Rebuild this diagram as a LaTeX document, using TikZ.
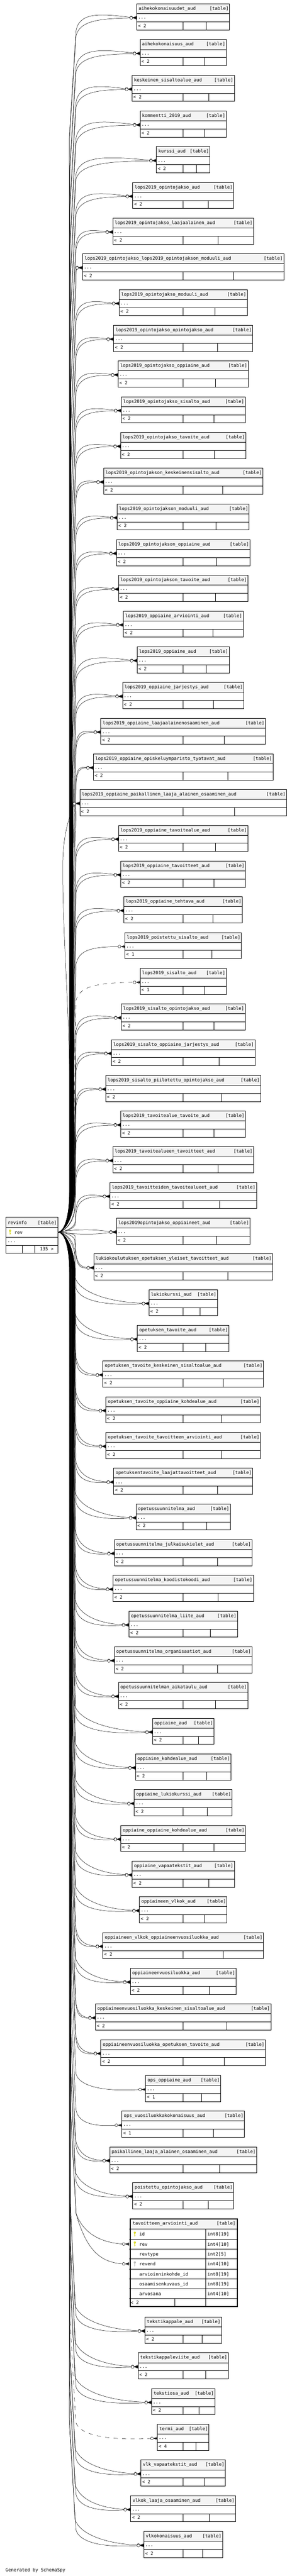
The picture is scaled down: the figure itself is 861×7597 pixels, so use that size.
\documentclass[tikz,border=0pt]{standalone}
\usepackage{fontspec}
\newfontfamily\dmono{DejaVu Sans Mono}
\definecolor{hdrgray}{HTML}{F4F4F4}
\definecolor{keyyellow}{HTML}{D4D400}
\definecolor{keygray}{HTML}{B4B4B4}
\tikzset{
  tbox/.style={draw=black, line width=1pt, inner sep=0pt, outer sep=0pt},
  tline/.style={draw=black, line width=1pt},
  txt/.style={font=\dmono\fontsize{13.3}{16}\selectfont, inner sep=0pt, outer sep=0pt},
  cnline/.style={draw=black, line width=0.75pt},
}
\newcommand\keyicon[3]{%
  \fill[#3] (#1,{#2-3.5}) circle (3.2);
  \fill[white] (#1,{#2-4.2}) circle (1);
  \fill[#3] ({#1-1},{#2-1}) rectangle ({#1+1},{#2+8});
  \fill[#3] ({#1+1},{#2+4}) rectangle ({#1+2.5},{#2+5.5});
}
\newcommand\crow[2]{%
  \fill[black] ({#1-10},#2) -- (#1,{#2-2.5}) -- (#1,{#2+2.5}) -- cycle;
  \draw[cnline] ({#1-10},#2) -- (#1,{#2-4.5}) ({#1-10},#2) -- (#1,{#2+4.5}) ({#1-20},#2) -- (#1,#2);
  \draw[cnline,fill=white] ({#1-16},#2) circle (4.2);
}
% connector from revinfo.rev to current table
\newcommand\cnx[2]{%
  \pgfmathsetmacro\cyp{\tT+41}%
  \pgfmathsetmacro\cEx{\tL-16}%
  \ifnum\tI<34
    \pgfmathsetmacro\cxb{205+17*\tI/33}%
    \ifnum#1=1
      \pgfmathsetmacro\cyd{\cyp+41}\def\cca{-15}\def\ccb{-14}\pgfmathsetmacro\cye{\cyp-0.7}\def\cxd{224}%
    \else
      \pgfmathsetmacro\cyd{\cyp+56}\def\cca{10}\def\ccb{2}\pgfmathsetmacro\cye{\cyp+0.7}\def\cxd{224}%
    \fi
    \pgfmathsetmacro\cD{min(120,(3633-\cyd)*0.5)}%
    \pgfmathsetmacro\cyq{3633-\cD}%
    \pgfmathsetmacro\cyr{min(\cyd+300,\cyq)}%
    \pgfmathsetmacro\cys{3633-0.4*\cD}%
  \else
    \pgfmathsetmacro\cxb{205+17*(69-\tI)/34}%
    \ifnum#1=1
      \pgfmathsetmacro\cyd{\cyp-78}\def\cca{-40}\def\ccb{-5}\pgfmathsetmacro\cye{\cyp-0.7}\def\cxd{221}%
    \else
      \pgfmathsetmacro\cyd{\cyp-46}\def\cca{-10}\def\ccb{8}\pgfmathsetmacro\cye{\cyp+0.7}\def\cxd{224}%
    \fi
    \pgfmathsetmacro\cD{min(120,(\cyd-3633)*0.5)}%
    \pgfmathsetmacro\cyq{3633+\cD}%
    \pgfmathsetmacro\cyr{max(\cyd-300,\cyq)}%
    \pgfmathsetmacro\cys{3633+0.4*\cD}%
  \fi
  \pgfmathsetmacro\cs{max(0,min(1,(\cEx-\cxd)/160))}%
  \pgfmathsetmacro\cax{\cxd+0.05*(\cEx-\cxd)}%
  \pgfmathsetmacro\cbx{\cxd+0.4*(\cEx-\cxd)}%
  \pgfmathsetmacro\cay{\cyp+\cca*\cs}%
  \pgfmathsetmacro\cby{\cyp+\ccb*\cs}%
  \coordinate (t\tI-p#1) at (\tL,\cye);
  \draw[cnline,#2] (ri-rev.east) .. controls (192,3633) and (\cxb,\cys) .. (\cxb,\cyq) -- (\cxb,\cyr) -- (\cxd,\cyd) .. controls (\cax,\cay) and (\cbx,\cby) .. (\cEx,\cye) -- (t\tI-p#1);
  \crow{\tL}{\cye}%
}
\newcommand\cTwo{\cnx{1}{}\cnx{2}{}}
\newcommand\cOne{\cnx{2}{}}
\newcommand\cDsh{\cnx{2}{dash pattern=on 12pt off 13pt}}
\newcommand\cStraight{%
  \coordinate (t34-p1) at (\tL,{\tT+40.3});
  \coordinate (t34-p2) at (\tL,{\tT+41.7});
  \draw[cnline] (ri-rev.east) .. controls (230,3624) and (280,3625) .. ({\tL-16},{\tT+40.3}) -- (t34-p1);
  \draw[cnline] (ri-rev.east) .. controls (230,3642) and (290,3641) .. ({\tL-16},{\tT+41.7}) -- (t34-p2);
  \crow{\tL}{\tT+40.3}\crow{\tL}{\tT+41.7}%
}
\newcommand\cFar{%
  \cnx{1}{}%
  \pgfmathsetmacro\cyp{\tT+41}%
  \coordinate (t22-p2) at (\tL,{\cyp+0.7});
  \draw[cnline] (ri-rev.east) .. controls (192,3633) and (206,3580) .. (206,3500) -- (205.6,3163) .. controls (202,2950) and (185,2750) .. (185,2560) .. controls (185,2470) and (200,2420) .. ({\tL-16},{\cyp+0.7}) -- (t22-p2);
  \crow{\tL}{\cyp+0.7}%
}
\newcommand\mytbl[5]{%
  \def\tI{#1}%
  \pgfmathsetmacro\tT{(#1<63) ? (11.3+#1*105.33) : (6833.4+(#1-63)*105.33)}%
  \pgfmathsetmacro\tL{#2}%
  \pgfmathsetmacro\tR{1080.6-#2}%
  \pgfmathsetmacro\tW{\tR-\tL}%
  \pgfmathsetmacro\tDt{(539.3+\tR)/2}%
  #5%
  \fill[hdrgray] (\tL,\tT) rectangle (\tR,{\tT+29});
  \draw[tline] (\tL,{\tT+29}) -- (\tR,{\tT+29}) (\tL,{\tT+53}) -- (\tR,{\tT+53})
     (539.3,{\tT+53}) -- (539.3,{\tT+77}) (\tDt,{\tT+53}) -- (\tDt,{\tT+77});
  \node[tbox, minimum width=\tW pt, minimum height=77pt, anchor=north west] (t#1) at (\tL,\tT) {};
  \node[txt, anchor=base west] (t#1-name) at ({\tL+6},{\tT+18.5}) {\detokenize{#3}};
  \node[txt, anchor=base east] (t#1-kind) at ({\tR-3},{\tT+18.5}) {[table]};
  \node[txt, anchor=base west] (t#1-dots) at ({\tL+4},{\tT+44.5}) {...};
  \node[txt, anchor=base west] (t#1-par) at ({\tL+4},{\tT+69.5}) {<~#4};
}
\begin{document}
\begin{tikzpicture}[x=1pt,y=-1pt]
\useasboundingbox (0,0) rectangle (861,7597);
\fill[white] (0,0) rectangle (861,7597);
% revinfo table
\fill[hdrgray] (17.8,3589.6) rectangle (170.4,3619);
\node[tbox, minimum width=152.6pt, minimum height=106.4pt, anchor=north west] (ri) at (17.8,3589.6) {};
\node[inner sep=0pt, outer sep=0pt, minimum width=152.6pt, minimum height=29.5pt, anchor=north west] (ri-rev) at (17.8,3619) {};
\draw[tline] (17.8,3619) -- (170.4,3619) (17.8,3648.5) -- (170.4,3648.5) (17.8,3672.5) -- (170.4,3672.5)
  (66.4,3672.5) -- (66.4,3696) (101.6,3672.5) -- (101.6,3696);
\node[txt, anchor=base west] (ri-name) at (23,3611) {revinfo};
\node[txt, anchor=base east] (ri-kind) at (167.3,3611) {[table]};
\keyicon{29.7}{3633}{keyyellow}
\node[txt, anchor=base west] (ri-revt) at (42.7,3639.5) {rev};
\node[txt, anchor=base west] (ri-dots) at (22,3664) {...};
\node[txt, anchor=base east] (ri-ch) at (158,3688.5) {135~>};

\mytbl{0}{403.3}{aihekokonaisuudet_aud}{2}{\cTwo}
\mytbl{1}{413.2}{aihekokonaisuus_aud}{2}{\cTwo}
\mytbl{2}{389.5}{keskeinen_sisaltoalue_aud}{2}{\cTwo}
\mytbl{3}{413.2}{kommentti_2019_aud}{2}{\cTwo}
\mytbl{4}{461.4}{kurssi_aud}{2}{\cTwo}
\mytbl{5}{391.5}{lops2019_opintojakso_aud}{2}{\cTwo}
\mytbl{6}{332.5}{lops2019_opintojakso_laajaalainen_aud}{2}{\cTwo}
\mytbl{7}{243.6}{lops2019_opintojakso_lops2019_opintojakson_moduuli_aud}{2}{\cTwo}
\mytbl{8}{351.5}{lops2019_opintojakso_moduuli_aud}{2}{\cTwo}
\mytbl{9}{335.3}{lops2019_opintojakso_opintojakso_aud}{2}{\cTwo}
\mytbl{10}{348.4}{lops2019_opintojakso_oppiaine_aud}{2}{\cTwo}
\mytbl{11}{357.5}{lops2019_opintojakso_sisalto_aud}{2}{\cTwo}
\mytbl{12}{355.5}{lops2019_opintojakso_tavoite_aud}{2}{\cTwo}
\mytbl{13}{305.3}{lops2019_opintojakson_keskeinensisalto_aud}{2}{\cTwo}
\mytbl{14}{345.6}{lops2019_opintojakson_moduuli_aud}{2}{\cTwo}
\mytbl{15}{343.2}{lops2019_opintojakson_oppiaine_aud}{2}{\cTwo}
\mytbl{16}{349.5}{lops2019_opintojakson_tavoite_aud}{2}{\cTwo}
\mytbl{17}{363.4}{lops2019_oppiaine_arviointi_aud}{2}{\cTwo}
\mytbl{18}{404.5}{lops2019_oppiaine_aud}{2}{\cTwo}
\mytbl{19}{361.4}{lops2019_oppiaine_jarjestys_aud}{2}{\cTwo}
\mytbl{20}{297.4}{lops2019_oppiaine_laajaalainenosaaminen_aud}{2}{\cTwo}
\mytbl{21}{275.2}{lops2019_oppiaine_opiskeluymparisto_tyotavat_aud}{2}{\cTwo}
\mytbl{22}{235.3}{lops2019_oppiaine_paikallinen_laaja_alainen_osaaminen_aud}{2}{\cFar}
\mytbl{23}{349.5}{lops2019_oppiaine_tavoitealue_aud}{2}{\cTwo}
\mytbl{24}{356.3}{lops2019_oppiaine_tavoitteet_aud}{2}{\cTwo}
\mytbl{25}{365.4}{lops2019_oppiaine_tehtava_aud}{2}{\cTwo}
\mytbl{26}{368.5}{lops2019_poistettu_sisalto_aud}{1}{\cOne}
\mytbl{27}{413.2}{lops2019_sisalto_aud}{1}{\cDsh}
\mytbl{28}{357.5}{lops2019_sisalto_opintojakso_aud}{2}{\cTwo}
\mytbl{29}{328.6}{lops2019_sisalto_oppiaine_jarjestys_aud}{2}{\cTwo}
\mytbl{30}{311.6}{lops2019_sisalto_piilotettu_opintojakso_aud}{2}{\cTwo}
\mytbl{31}{356.3}{lops2019_tavoitealue_tavoite_aud}{2}{\cTwo}
\mytbl{32}{332.5}{lops2019_tavoitealueen_tavoitteet_aud}{2}{\cTwo}
\mytbl{33}{324.2}{lops2019_tavoitteiden_tavoitealueet_aud}{2}{\cTwo}
\mytbl{34}{343.2}{lops2019opintojakso_oppiaineet_aud}{2}{\cStraight}
\mytbl{35}{276.4}{lukiokoulutuksen_opetuksen_yleiset_tavoitteet_aud}{2}{\cTwo}
\mytbl{36}{439.3}{lukiokurssi_aud}{2}{\cTwo}
\mytbl{37}{405.3}{opetuksen_tavoite_aud}{2}{\cTwo}
\mytbl{38}{303.3}{opetuksen_tavoite_keskeinen_sisaltoalue_aud}{2}{\cTwo}
\mytbl{39}{312.4}{opetuksen_tavoite_oppiaine_kohdealue_aud}{2}{\cTwo}
\mytbl{40}{312.4}{opetuksen_tavoite_tavoitteen_arviointi_aud}{2}{\cTwo}
\mytbl{41}{335.3}{opetuksentavoite_laajattavoitteet_aud}{2}{\cTwo}
\mytbl{42}{401.3}{opetussuunnitelma_aud}{2}{\cTwo}
\mytbl{43}{337.3}{opetussuunnitelma_julkaisukielet_aud}{2}{\cTwo}
\mytbl{44}{333.3}{opetussuunnitelma_koodistokoodi_aud}{2}{\cTwo}
\mytbl{45}{380.4}{opetussuunnitelma_liite_aud}{2}{\cTwo}
\mytbl{46}{337.3}{opetussuunnitelma_organisaatiot_aud}{2}{\cTwo}
\mytbl{47}{349.5}{opetussuunnitelman_aikataulu_aud}{2}{\cTwo}
\mytbl{48}{449.6}{oppiaine_aud}{2}{\cTwo}
\mytbl{49}{399.4}{oppiaine_kohdealue_aud}{2}{\cTwo}
\mytbl{50}{396.2}{oppiaine_lukiokurssi_aud}{2}{\cTwo}
\mytbl{51}{356.3}{oppiaine_oppiaine_kohdealue_aud}{2}{\cTwo}
\mytbl{52}{389.5}{oppiaine_vapaatekstit_aud}{2}{\cTwo}
\mytbl{53}{411.2}{oppiaineen_vlkok_aud}{2}{\cTwo}
\mytbl{54}{303.3}{oppiaineen_vlkok_oppiaineenvuosiluokka_aud}{2}{\cTwo}
\mytbl{55}{384.3}{oppiaineenvuosiluokka_aud}{2}{\cTwo}
\mytbl{56}{281.5}{oppiaineenvuosiluokka_keskeinen_sisaltoalue_aud}{2}{\cTwo}
\mytbl{57}{297.4}{oppiaineenvuosiluokka_opetuksen_tavoite_aud}{2}{\cTwo}
\mytbl{58}{429.4}{ops_oppiaine_aud}{1}{\cOne}
\mytbl{59}{359.4}{ops_vuosiluokkakokonaisuus_aud}{1}{\cOne}
\mytbl{60}{323.4}{paikallinen_laaja_alainen_osaaminen_aud}{2}{\cTwo}
\mytbl{61}{391.5}{poistettu_opintojakso_aud}{2}{\cTwo}
\mytbl{63}{427.4}{tekstikappale_aud}{2}{\cTwo}
\mytbl{64}{407.3}{tekstikappaleviite_aud}{2}{\cTwo}
\mytbl{65}{447.2}{tekstiosa_aud}{2}{\cTwo}
\mytbl{66}{464.2}{termi_aud}{4}{\cDsh}
\mytbl{67}{415.6}{vlk_vapaatekstit_aud}{2}{\cTwo}
\mytbl{68}{385.5}{vlkok_laaja_osaaminen_aud}{2}{\cTwo}
\mytbl{69}{424.3}{vlkokonaisuus_aud}{2}{\cTwo}

% focus table tavoitteen_arviointi_aud
\coordinate (t62-rev) at (380.8,6618);
\coordinate (t62-revend) at (380.8,6676.4);
\draw[cnline] (ri-rev.east) .. controls (192,3633) and (208.5,3681) .. (208.5,3753) -- (208.5,6228) -- (224.6,6528) .. controls (245,6585) and (295,6614) .. (364.8,6618) -- (t62-rev);
\draw[cnline] (ri-rev.east) .. controls (192,3633) and (208,3681) .. (208,3753) -- (208,6229) -- (224.6,6529) .. controls (255,6635) and (295,6673) .. (364.8,6676.4) -- (t62-revend);
\crow{380.8}{6618}\crow{380.8}{6676.4}
\fill[hdrgray] (380.8,6541.5) rectangle (700,6573);
\fill[white] (380.8,6573) rectangle (700,6803);
\draw[tline] (380.8,6573) -- (700,6573) (380.8,6603.4) -- (700,6603.4) (380.8,6632.5) -- (700,6632.5)
  (380.8,6661.6) -- (700,6661.6) (380.8,6691.1) -- (700,6691.1) (380.8,6720.6) -- (700,6720.6)
  (380.8,6749.7) -- (700,6749.7) (380.8,6778.9) -- (700,6778.9)
  (607,6573) -- (607,6803) (515,6778.9) -- (515,6803);
\node[draw=black, line width=3pt, inner sep=0pt, minimum width=316pt, minimum height=258.5pt, anchor=north west] (t62) at (382.3,6543) {};
\node[txt, anchor=base west] (t62-name) at (391.5,6562) {tavoitteen\_arviointi\_aud};
\node[txt, anchor=base east] (t62-kind) at (695,6562) {[table]};
\keyicon{397.8}{6588}{keyyellow}
\keyicon{397.8}{6617}{keyyellow}
\keyicon{397.8}{6675.5}{keygray}
\node[txt, anchor=base west] (t62-c1) at (411.2,6594) {id};
\node[txt, anchor=base west] (t62-c2) at (411.2,6623.5) {rev};
\node[txt, anchor=base west] (t62-c3) at (411.2,6652.5) {revtype};
\node[txt, anchor=base west] (t62-c4) at (411.2,6681.8) {revend};
\node[txt, anchor=base west] (t62-c5) at (411.2,6711.2) {arvioinninkohde\_id};
\node[txt, anchor=base west] (t62-c6) at (411.2,6740.5) {osaamisenkuvaus\_id};
\node[txt, anchor=base west] (t62-c7) at (411.2,6769.7) {arvosana};
\node[txt, anchor=base west] (t62-d1) at (612,6594) {int8[19]};
\node[txt, anchor=base west] (t62-d2) at (612,6623.5) {int4[10]};
\node[txt, anchor=base west] (t62-d3) at (612,6652.5) {int2[5]};
\node[txt, anchor=base west] (t62-d4) at (612,6681.8) {int4[10]};
\node[txt, anchor=base west] (t62-d5) at (612,6711.2) {int8[19]};
\node[txt, anchor=base west] (t62-d6) at (612,6740.5) {int8[19]};
\node[txt, anchor=base west] (t62-d7) at (612,6769.7) {int4[10]};
\node[txt, anchor=base west] (t62-par) at (385.5,6795) {<~2};

\node[txt, anchor=base west] (gen) at (16.6,7583.5) {Generated by SchemaSpy};
\end{tikzpicture}
\end{document}
